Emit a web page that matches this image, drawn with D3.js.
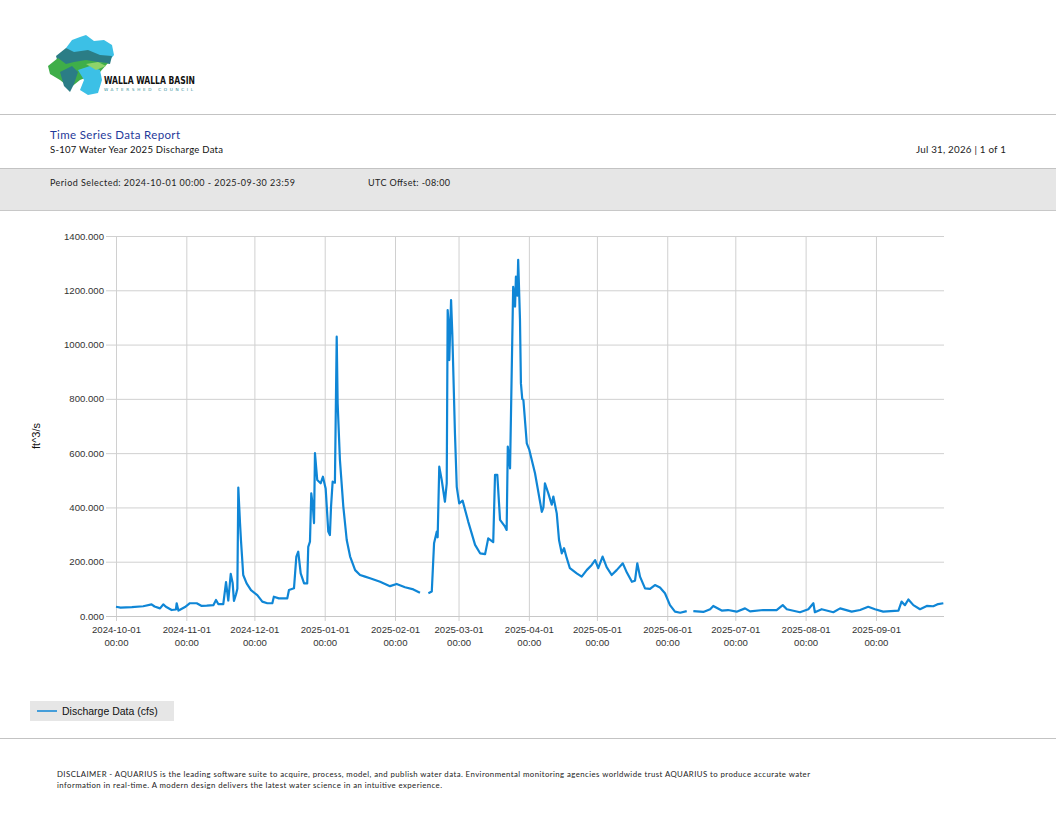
<!DOCTYPE html>
<html>
<head>
<meta charset="utf-8">
<script src="https://cdn.jsdelivr.net/npm/d3@7"></script>
<style>
  html, body { margin: 0; padding: 0; background: #fff; }
  svg { display: block; }
</style>
</head>
<body>
<svg id="page" width="1056" height="816"></svg>
<script>
// ---------------- DATA ----------------
const reportTitle = "Time Series Data Report";
const reportSubtitle = "S-107 Water Year 2025 Discharge Data";
const reportDate = "Jul 31, 2026 | 1 of 1";
const periodText = "Period Selected: 2024-10-01 00:00 - 2025-09-30 23:59";
const utcText = "UTC Offset: -08:00";
const yAxisTitle = "ft^3/s";
const seriesName = "Discharge Data (cfs)";
const yTicks = [0, 200, 400, 600, 800, 1000, 1200, 1400];
const xTicks = ["2024-10-01","2024-11-01","2024-12-01","2025-01-01","2025-02-01","2025-03-01",
                "2025-04-01","2025-05-01","2025-06-01","2025-07-01","2025-08-01","2025-09-01"];
const disclaimer = [
  "DISCLAIMER - AQUARIUS is the leading software suite to acquire, process, model, and publish water data. Environmental monitoring agencies worldwide trust AQUARIUS to produce accurate water",
  "information in real-time. A modern design delivers the latest water science in an intuitive experience."
];
// discharge readings (time, cfs); null marks a data gap
const times = [
 "2024-10-01 00:00","2024-10-03 00:00","2024-10-08 00:00","2024-10-13 00:00","2024-10-16 16:00","2024-10-18 00:00",
 "2024-10-20 10:00","2024-10-21 20:00","2024-10-23 00:00","2024-10-25 13:00","2024-10-27 10:00","2024-10-27 18:00",
 "2024-10-28 12:00","2024-10-29 00:00","2024-10-31 10:00","2024-11-02 14:00","2024-11-05 14:00","2024-11-07 19:00",
 "2024-11-10 00:00","2024-11-12 22:00","2024-11-14 02:00","2024-11-15 02:00","2024-11-17 07:00","2024-11-18 12:00",
 "2024-11-19 12:00","2024-11-20 14:00","2024-11-21 10:00","2024-11-22 00:00","2024-11-22 22:00","2024-11-23 12:00",
 "2024-11-23 22:00","2024-11-24 08:00","2024-11-24 16:00","2024-11-25 02:00","2024-11-26 02:00","2024-11-27 14:00",
 "2024-11-29 12:00","2024-12-02 07:00","2024-12-04 12:00","2024-12-06 17:00","2024-12-08 22:00","2024-12-09 14:00",
 "2024-12-11 19:00","2024-12-15 12:00","2024-12-16 06:00","2024-12-18 11:00","2024-12-19 12:00","2024-12-20 08:00",
 "2024-12-21 10:00","2024-12-22 22:00","2024-12-24 07:00","2024-12-24 18:00","2024-12-25 12:00","2024-12-26 02:00",
 "2024-12-26 19:00","2024-12-27 07:00","2024-12-27 17:00","2024-12-28 17:00","2024-12-30 05:00","2024-12-31 05:00",
 "2025-01-01 10:00","2025-01-02 14:00","2025-01-03 07:00","2025-01-03 19:00","2025-01-04 12:00","2025-01-05 12:00",
 "2025-01-06 07:00","2025-01-06 17:00","2025-01-07 17:00","2025-01-09 05:00","2025-01-10 17:00","2025-01-12 05:00",
 "2025-01-14 10:00","2025-01-16 14:00","2025-01-18 19:00","2025-01-21 00:00","2025-01-25 10:00","2025-01-29 19:00",
 "2025-02-01 17:00","2025-02-05 10:00","2025-02-09 02:00","2025-02-12 00:00","2025-02-13 12:00",
 "2025-02-15 17:00","2025-02-17 05:00","2025-02-18 05:00","2025-02-19 10:00","2025-02-19 19:00","2025-02-20 12:00",
 "2025-02-21 14:00","2025-02-23 00:00","2025-02-23 19:00","2025-02-24 05:00","2025-02-24 14:00","2025-02-24 22:00",
 "2025-02-25 17:00","2025-02-26 06:00","2025-02-27 10:00","2025-02-28 05:00","2025-03-01 07:00","2025-03-02 19:00",
 "2025-03-05 07:00","2025-03-08 07:00","2025-03-10 12:00","2025-03-12 17:00","2025-03-14 02:00","2025-03-16 07:00",
 "2025-03-17 02:00","2025-03-18 02:00","2025-03-19 07:00","2025-03-21 12:00","2025-03-22 05:00","2025-03-22 17:00",
 "2025-03-23 17:00","2025-03-25 02:00","2025-03-25 22:00","2025-03-26 07:00","2025-03-26 22:00","2025-03-27 07:00",
 "2025-03-28 02:00","2025-03-28 12:00","2025-03-29 02:00","2025-03-29 14:00","2025-03-31 02:00","2025-04-01 05:00",
 "2025-04-03 17:00","2025-04-06 17:00","2025-04-07 10:00","2025-04-08 02:00","2025-04-09 14:00","2025-04-11 02:00",
 "2025-04-11 19:00","2025-04-13 07:00","2025-04-14 07:00","2025-04-15 12:00","2025-04-16 12:00","2025-04-17 17:00",
 "2025-04-19 02:00","2025-04-22 02:00","2025-04-24 07:00","2025-04-26 12:00","2025-04-28 17:00","2025-04-30 05:00",
 "2025-05-01 14:00","2025-05-03 12:00","2025-05-05 07:00","2025-05-07 12:00","2025-05-09 17:00","2025-05-12 10:00",
 "2025-05-14 05:00","2025-05-16 10:00","2025-05-17 19:00","2025-05-18 19:00","2025-05-20 00:00","2025-05-22 05:00",
 "2025-05-24 10:00","2025-05-26 14:00","2025-05-28 19:00","2025-05-31 00:00","2025-06-02 05:00","2025-06-04 10:00",
 "2025-06-06 17:00","2025-06-09 14:00","2025-06-11 00:00",
 "2025-06-12 12:00","2025-06-16 22:00","2025-06-19 22:00","2025-06-21 07:00","2025-06-25 00:00","2025-06-27 19:00",
 "2025-07-01 14:00","2025-07-05 07:00","2025-07-07 12:00","2025-07-13 07:00","2025-07-19 05:00","2025-07-21 22:00",
 "2025-07-23 17:00","2025-07-29 12:00","2025-08-02 05:00","2025-08-04 10:00","2025-08-05 02:00","2025-08-08 02:00",
 "2025-08-13 05:00","2025-08-16 05:00","2025-08-21 07:00","2025-08-25 00:00","2025-08-28 14:00","2025-08-31 14:00",
 "2025-09-04 05:00","2025-09-10 22:00","2025-09-12 07:00","2025-09-13 19:00","2025-09-15 07:00","2025-09-17 12:00",
 "2025-09-20 10:00","2025-09-23 10:00","2025-09-26 07:00","2025-09-28 10:00","2025-09-30 17:00"
];
const discharge = [
 34,31,33,36,43,35,
 28,43,34,22,24,47,
 20,22,33,47,47,37,
 38,40,59,44,44,125,
 57,155,122,56,80,100,
 473,400,342,280,151,120,
 95,77,53,47,47,71,
 65,65,96,102,219,237,
 157,120,120,255,274,452,
 403,342,600,501,489,513,
 470,311,298,403,495,491,
 1029,784,575,403,280,219,
 169,151,145,139,126,110,
 118,106,98,86,null,
 84,90,268,311,290,550,
 501,421,489,1127,1080,943,
 1164,1041,673,476,415,425,
 347,262,231,228,286,272,
 520,520,354,329,317,624,
 544,1213,1140,1250,1180,1312,
 1091,857,800,796,636,612,
 526,384,400,489,452,410,
 440,378,280,231,250,213,
 176,157,145,169,188,206,
 176,219,180,151,169,194,
 160,126,130,194,145,102,
 100,114,105,84,40,16,
 12,18,null,
 18,15,25,37,20,22,
 16,28,17,22,22,40,
 25,14,25,47,14,25,
 14,28,16,22,34,25,
 16,20,53,40,61,40,
 25,37,36,44,47
];

// ---------------- PAGE ----------------
const svg = d3.select("#page");
const uiFont = "Lato, 'Open Sans', sans-serif";
const chartFont = "'Liberation Sans', Arial, sans-serif";

// logo (simplified vector mark)
const logo = svg.append("g").attr("class","logo");
logo.append("path").attr("d","M66,48 L72,40 L80,37 L86,35 L94,41 L104,40 L112,45 L114,55 L108,62 L100,62 L92,58 L80,58 L70,60 Z").attr("fill","#3cc0e6");
logo.append("path").attr("d","M56,56 L66,48 L74,52 L88,50 L100,55 L112,56 L110,64 L96,62 L84,63 L72,66 L60,70 Z").attr("fill","#2b7d86");
logo.append("path").attr("d","M48,66 L58,58 L66,64 L74,62 L86,60 L98,62 L108,63 L100,72 L90,76 L80,80 L70,88 L60,80 L50,74 Z").attr("fill","#3fae49");
logo.append("path").attr("d","M60,72 L72,66 L78,72 L74,84 L70,92 L64,86 Z").attr("fill","#2b7d86");
logo.append("path").attr("d","M78,70 L90,66 L100,70 L102,80 L98,93 L88,95 L80,90 L84,80 Z").attr("fill","#3cc0e6");
logo.append("path").attr("d","M86,64 L98,62 L106,66 L96,70 Z").attr("fill","#8fd36a");
logo.append("text").attr("x",104).attr("y",84).attr("font-family","'DejaVu Sans Condensed', 'DejaVu Sans', sans-serif")
  .attr("font-size",10).attr("font-weight","bold").attr("fill","#111").attr("textLength",91).attr("lengthAdjust","spacingAndGlyphs")
  .text("WALLA WALLA BASIN");
logo.append("text").attr("x",104).attr("y",91).attr("font-family","'DejaVu Sans', sans-serif")
  .attr("font-size",4.2).attr("fill","#2b8a96").attr("textLength",89).attr("lengthAdjust","spacing")
  .text("WATERSHED COUNCIL");

// header rules and band
svg.append("line").attr("x1",0).attr("x2",1056).attr("y1",114.5).attr("y2",114.5).attr("stroke","#c3c3c3").attr("stroke-width",1);
svg.append("rect").attr("x",0).attr("y",168).attr("width",1056).attr("height",42).attr("fill","#e6e6e6");
svg.append("line").attr("x1",0).attr("x2",1056).attr("y1",168.5).attr("y2",168.5).attr("stroke","#c3c3c3");
svg.append("line").attr("x1",0).attr("x2",1056).attr("y1",210.5).attr("y2",210.5).attr("stroke","#c8c8c8");

svg.append("text").attr("x",50).attr("y",139).attr("font-family",uiFont).attr("font-size",11.5)
  .attr("fill","#1f3a9a").attr("textLength",130).attr("lengthAdjust","spacing").text(reportTitle);
svg.append("text").attr("x",50).attr("y",153).attr("font-family",uiFont).attr("font-size",9.5)
  .attr("fill","#111").attr("textLength",173).attr("lengthAdjust","spacing").text(reportSubtitle);
svg.append("text").attr("x",916).attr("y",153).attr("font-family",uiFont).attr("font-size",9.8)
  .attr("fill","#222").attr("textLength",90).attr("lengthAdjust","spacing").text(reportDate);
svg.append("text").attr("x",50).attr("y",186).attr("font-family",uiFont).attr("font-size",9)
  .attr("fill","#222").attr("textLength",245).attr("lengthAdjust","spacing").text(periodText);
svg.append("text").attr("x",368).attr("y",186).attr("font-family",uiFont).attr("font-size",9)
  .attr("fill","#222").attr("textLength",82).attr("lengthAdjust","spacing").text(utcText);

// ---------------- CHART ----------------
const parse = d3.timeParse("%Y-%m-%d %H:%M");
const parseDay = d3.timeParse("%Y-%m-%d");
const data = times.map((t,i) => ({t: parse(t), v: discharge[i]}));

const x = d3.scaleTime()
  .domain([parseDay("2024-10-01"), parseDay("2025-10-01")])
  .range([116, 944]);
const y = d3.scaleLinear().domain([0, 1400]).range([616, 236]);

const chart = svg.append("g").attr("class","chart");

// horizontal grid + y ticks
const yAxis = d3.axisLeft(y).tickValues(yTicks).tickSize(-(944-106)).tickPadding(2)
  .tickFormat(d3.format(".3f"));
const gy = chart.append("g").attr("transform","translate(106,0)").call(yAxis);
gy.select(".domain").remove();
gy.selectAll(".tick line").attr("stroke","#d0d0d0").attr("stroke-width",1);
gy.selectAll(".tick text").attr("font-family",chartFont).attr("font-size",9.6).attr("fill","#333");

// vertical grid + x ticks
const xTickDates = xTicks.map(parseDay);
const xAxis = d3.axisBottom(x).tickValues(xTickDates).tickSize(-(616-236)).tickFormat("");
const gx = chart.append("g").attr("transform","translate(0,616)").call(xAxis);
gx.select(".domain").remove();
gx.selectAll(".tick line").attr("stroke","#d0d0d0").attr("stroke-width",1);
gx.selectAll(".tick").append("line").attr("y1",0).attr("y2",5).attr("stroke","#d0d0d0");
const fmt = d3.timeFormat("%Y-%m-%d");
gx.selectAll(".tick").each(function(d){
  const g = d3.select(this);
  g.append("text").attr("y",17).attr("text-anchor","middle").attr("font-family",chartFont)
    .attr("font-size",9.6).attr("fill","#333").text(fmt(d));
  g.append("text").attr("y",30).attr("text-anchor","middle").attr("font-family",chartFont)
    .attr("font-size",9.6).attr("fill","#333").text(d3.timeFormat("%H:%M")(d));
});
chart.append("line").attr("x1",106).attr("x2",944).attr("y1",616.5).attr("y2",616.5).attr("stroke","#c8c8c8");

// y axis title
chart.append("text").attr("transform","translate(40,436) rotate(-90)").attr("text-anchor","middle")
  .attr("font-family",chartFont).attr("font-size",11).attr("fill","#111").text(yAxisTitle);

// series line
const line = d3.line().defined(d => d.v !== null).x(d => x(d.t)).y(d => y(d.v));
chart.append("path").datum(data).attr("d",line).attr("fill","none")
  .attr("stroke","#0f86d6").attr("stroke-width",2.2).attr("stroke-linejoin","round");

// legend
const lg = svg.append("g").attr("class","legend");
lg.append("rect").attr("x",30).attr("y",701).attr("width",144).attr("height",20).attr("fill","#e6e6e6");
lg.append("line").attr("x1",37).attr("x2",57).attr("y1",711).attr("y2",711).attr("stroke","#0f86d6").attr("stroke-width",1.5);
lg.append("text").attr("x",62).attr("y",715).attr("font-family",chartFont).attr("font-size",10.5).attr("fill","#111").text(seriesName);

// footer
svg.append("line").attr("x1",0).attr("x2",1056).attr("y1",738.5).attr("y2",738.5).attr("stroke","#c3c3c3");
svg.append("text").attr("x",57).attr("y",777).attr("font-family",uiFont).attr("font-size",7.8).attr("fill","#222")
  .attr("textLength",753).attr("lengthAdjust","spacing").text(disclaimer[0]);
svg.append("text").attr("x",57).attr("y",788).attr("font-family",uiFont).attr("font-size",7.8).attr("fill","#222")
  .attr("textLength",385).attr("lengthAdjust","spacing").text(disclaimer[1]);
</script>
</body>
</html>
